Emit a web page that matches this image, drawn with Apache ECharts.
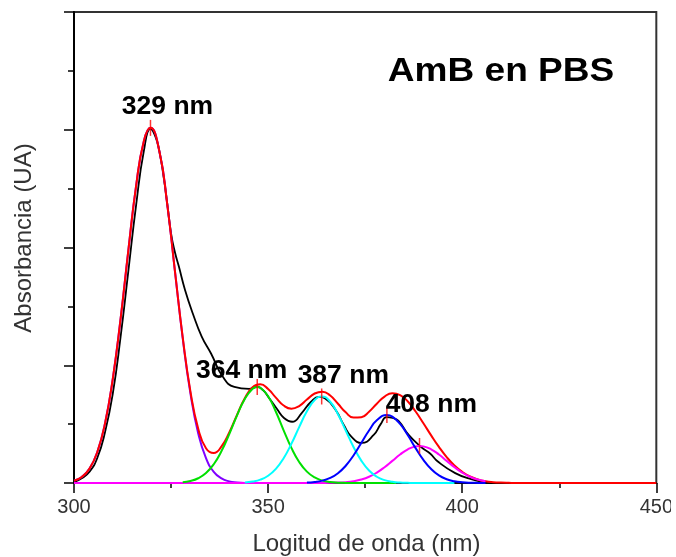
<!DOCTYPE html>
<html>
<head>
<meta charset="utf-8">
<script src="https://cdn.jsdelivr.net/npm/echarts@6/dist/echarts.min.js"></script>
<style>
  html, body { margin: 0; padding: 0; background: #ffffff; }
  #chart { width: 676px; height: 557px; }
</style>
</head>
<body>
<div id="chart"></div>
<script>
// Wavelength (nm) / absorbance pairs for the AmB spectrum in PBS and its band deconvolution.
const xTicks = [300, 350, 400, 450];
const yTicks = [0, 0.25, 0.5, 0.75, 1];

// measured spectrum
const measured = [
  [300,0.002],[302,0.01],[304,0.024],[306,0.053],[308,0.108],[310,0.19],[312,0.31],[314,0.45],
  [316,0.59],[318,0.705],[319.7,0.752],[321,0.735],[322,0.704],[323,0.655],[324,0.595],[325,0.53],
  [326,0.49],[327,0.46],[328.6,0.41],[330.6,0.36],[332.9,0.311],[335.3,0.275],[338.3,0.226],
  [341.3,0.204],[345.1,0.2],[347.2,0.204],[348.7,0.197],[350.3,0.18],[352.3,0.157],[354.1,0.138],
  [356.2,0.13],[358.7,0.149],[361.0,0.172],[363.1,0.183],[364.6,0.18],[367.4,0.155],[369.5,0.123],
  [371.5,0.098],[374.1,0.085],[377.2,0.102],[379.0,0.125],[380.5,0.14],[382.1,0.138],[383.6,0.132],
  [386.2,0.102],[389.5,0.076],[391.8,0.062],[393.8,0.045],[398.2,0.021],[402.3,0.008],[405.9,0.002],
  [411.8,-0.004],[416.9,-0.004],[420.8,0],[424.6,0],[434.9,-0.004],[445.9,-0.004],[450,0]
];

// cumulative fit
const fitSum = [
  [300,0.0048],[302,0.0128],[304,0.0305],[306,0.0657],[308,0.127],[310,0.2218],[312,0.3487],
  [314,0.4941],[316,0.631],[318,0.7262],[319.7,0.754],[322,0.7039],[324,0.5928],[326,0.4499],
  [328,0.3095],[330,0.194],[332,0.1154],[334,0.0739],[336,0.0637],[338,0.0776],[340,0.1074],
  [342,0.1447],[344,0.18],[346,0.2032],[348,0.2094],[350,0.1996],[352,0.1812],[354,0.1645],
  [356,0.1578],[358,0.1633],[360,0.1772],[362,0.19],[364,0.1939],[366,0.1856],[368,0.1683],
  [370,0.15],[372,0.1389],[374,0.1398],[376,0.1513],[378,0.1684],[380,0.1835],[382,0.1905],
  [384,0.1868],[386,0.173],[388,0.1518],[390,0.1269],[392,0.1011],[394,0.0766],[396,0.055],
  [398,0.0372],[400,0.0236],[402,0.0138],[404,0.0076],[406,0.0038],[408,0.0018],[410,0.0008],
  [412,0.0003],[414,0],[450,0]
];

// individual bands
const band1 = [
  [300,0.0048],[302,0.0128],[304,0.0305],[306,0.0657],[308,0.127],[310,0.2218],[312,0.3487],
  [314,0.4941],[316,0.631],[318,0.7262],[319.7,0.754],[322,0.7039],[324,0.5928],[326,0.4499],
  [328,0.3078],[330,0.1897],[332,0.1053],[334,0.0527],[336,0.0238],[338,0.0097],[340,0.0035],
  [342,0.0012],[344,0]
];
const band2 = [
  [328,0.0017],[330,0.0043],[332,0.0101],[334,0.0212],[336,0.0399],[338,0.0679],[340,0.1039],
  [342,0.1435],[344,0.1786],[346,0.2002],[347.2,0.204],[348,0.2023],[350,0.1842],[352,0.1512],
  [354,0.1118],[356,0.0745],[358,0.0447],[360,0.0242],[362,0.0118],[364,0.0052],[366,0.0021],
  [368,0.0007],[370,0.0002],[372,0],[383,0]
];
const band3 = [
  [344,0.0011],[346,0.003],[348,0.0071],[350,0.0154],[352,0.03],[354,0.0527],[356,0.0833],
  [358,0.1186],[360,0.1522],[362,0.1761],[363.8,0.1837],[366,0.1725],[368,0.146],[370,0.1114],
  [372,0.0766],[374,0.0475],[376,0.0265],[378,0.0133],[380,0.0061],[382,0.0025],[384,0.0009],
  [386,0.0003],[388,0],[398,0]
];
const band4 = [
  [360,0.0008],[362,0.0021],[364,0.005],[366,0.0107],[368,0.0208],[370,0.0366],[372,0.0585],
  [374,0.0849],[376,0.1115],[378,0.133],[380.6,0.1444],[382,0.141],[384,0.1254],[386,0.1012],
  [388,0.074],[390,0.0491],[392,0.0296],[394,0.0161],[396,0.008],[398,0.0036],[400,0.0015],
  [402,0.0005],[404,0.0002],[406,0]
];
const band5 = [
  [300,0],[362,0],[364,0.0001],[366,0.0003],[368,0.0008],[370,0.0018],[372,0.0038],[374,0.0074],
  [376,0.0133],[378,0.0221],[380,0.0336],[382,0.047],[384,0.0605],[386,0.0715],[388,0.0778],
  [389,0.0786],[390,0.0778],[392,0.0715],[394,0.0605],[396,0.047],[398,0.0336],[400,0.0221],
  [402,0.0133],[404,0.0074],[406,0.0038]
];

// band centres
const bandPeaks = [[319.7,0.754],[347.2,0.204],[363.8,0.1837],[380.6,0.1444],[389.0,0.0786]];

const peakLabels = ['329 nm', '364 nm', '387 nm', '408 nm'];
const sampleLabel = 'AmB en PBS';
const xTitle = 'Logitud de onda (nm)';
const yTitle = 'Absorbancia (UA)';

const FONT = '"Liberation Sans", Arial, Helvetica, sans-serif';

function curve(name, data, color, width, z) {
  return {
    name: name, type: 'line', data: data, z: z,
    showSymbol: false, smooth: true, clip: true,
    lineStyle: { color: color, width: width },
    emphasis: { disabled: true }
  };
}

const chart = echarts.init(document.getElementById('chart'), null, { renderer: 'canvas' });

function peakText(text, x, y) {
  return {
    type: 'text', x: x, y: y, z: 20, scaleX: 1.06,
    style: {
      text: text, fontFamily: FONT, fontWeight: 'bold', fontSize: 25,
      fill: '#000', align: 'center', verticalAlign: 'middle'
    }
  };
}

chart.setOption({
  animation: false,
  backgroundColor: '#ffffff',
  grid: {
    left: 74, right: 17, top: 12, bottom: 74,
    show: true, borderColor: '#333', borderWidth: 2, backgroundColor: 'transparent'
  },
  xAxis: {
    type: 'value',
    min: xTicks[0], max: xTicks[xTicks.length - 1], interval: xTicks[1] - xTicks[0],
    axisLine: { show: true, onZero: false, lineStyle: { color: '#000', width: 1.5 } },
    axisTick: { show: true, length: 10, lineStyle: { color: '#000', width: 1.5 } },
    minorTick: { show: true, splitNumber: 2, length: 5, lineStyle: { color: '#000', width: 1.5 } },
    splitLine: { show: false },
    axisLabel: { fontFamily: FONT, fontSize: 20, color: '#333', margin: 14 }
  },
  yAxis: {
    type: 'value',
    min: yTicks[0], max: yTicks[yTicks.length - 1], interval: yTicks[1] - yTicks[0],
    axisLine: { show: true, lineStyle: { color: '#000', width: 2 } },
    axisTick: { show: true, length: 10, lineStyle: { color: '#000', width: 1.5 } },
    minorTick: { show: true, splitNumber: 2, length: 6, lineStyle: { color: '#000', width: 1.5 } },
    splitLine: { show: false },
    axisLabel: { show: false }
  },
  series: [
    curve('Medido', measured, '#000000', 1.8, 2),
    curve('Banda 1', band1, '#8000ff', 2, 3),
    curve('Ajuste', fitSum, '#ff0000', 2, 4),
    curve('Banda 5', band5, '#ff00ff', 2, 5),
    curve('Banda 2', band2, '#00e000', 2, 6),
    curve('Banda 3', band3, '#00ffff', 2, 7),
    curve('Banda 4', band4, '#0000ff', 2, 8),
    {
      name: 'Centros', type: 'scatter', data: bandPeaks, z: 9,
      symbol: 'rect', symbolSize: [1.5, 16],
      itemStyle: { color: '#ff0000' },
      emphasis: { disabled: true }, silent: true
    }
  ],
  graphic: [
    peakText(peakLabels[0], 167.5, 107),
    peakText(peakLabels[1], 241.7, 371),
    peakText(peakLabels[2], 343.3, 376),
    peakText(peakLabels[3], 431.3, 405),
    { type: 'text', x: 501, y: 72, z: 20, scaleX: 1.09, style: {
        text: sampleLabel, fontFamily: FONT, fontWeight: 'bold', fontSize: 34,
        fill: '#000', align: 'center', verticalAlign: 'middle' } },
    { type: 'text', x: 366.5, y: 544, z: 20, style: {
        text: xTitle, fontFamily: FONT, fontSize: 24, fill: '#333',
        align: 'center', verticalAlign: 'middle' } },
    { type: 'text', x: 24, y: 238, rotation: Math.PI / 2, z: 20, style: {
        text: yTitle, fontFamily: FONT, fontSize: 24, fill: '#333',
        align: 'center', verticalAlign: 'middle' } },
    { type: 'rect', shape: { x: 671, y: 0, width: 5, height: 557 }, z: 30,
      style: { fill: '#ffffff' } }
  ]
});
</script>
</body>
</html>
